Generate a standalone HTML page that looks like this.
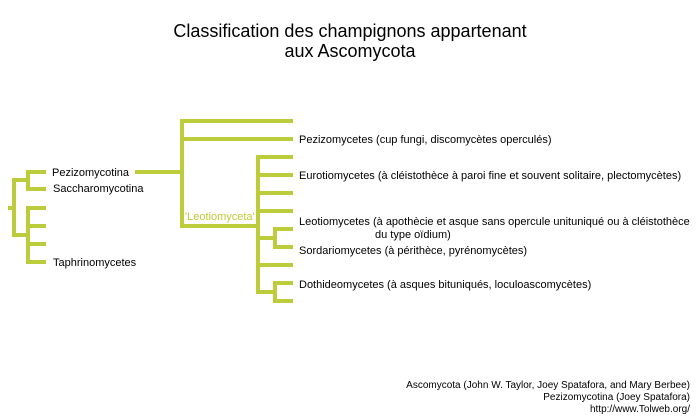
<!DOCTYPE html>
<html><head><style>
html,body{margin:0;padding:0;background:#fff;}
svg{display:block;}
text{font-family:"Liberation Sans",Arial,sans-serif;fill:#000;}
</style></head><body>
<svg width="700" height="420" viewBox="0 0 700 420" xmlns="http://www.w3.org/2000/svg">
<text x="350" y="37" font-size="18" text-anchor="middle">Classification des champignons appartenant</text>
<text x="350" y="57" font-size="18" text-anchor="middle">aux Ascomycota</text>
<g stroke="#bccc3a" stroke-width="4" fill="none" stroke-linecap="butt">
<line x1="8" y1="208" x2="14" y2="208"/>
<line x1="14" y1="178" x2="14" y2="237"/>
<line x1="12" y1="180" x2="28" y2="180"/>
<line x1="12" y1="235" x2="28" y2="235"/>
<line x1="28" y1="170" x2="28" y2="191"/>
<line x1="26" y1="172" x2="46" y2="172"/>
<line x1="26" y1="189" x2="46" y2="189"/>
<line x1="28" y1="206" x2="28" y2="264"/>
<line x1="26" y1="208" x2="46" y2="208"/>
<line x1="26" y1="226" x2="46" y2="226"/>
<line x1="26" y1="244" x2="46" y2="244"/>
<line x1="26" y1="262" x2="46" y2="262"/>
<line x1="135" y1="172" x2="182" y2="172"/>
<line x1="182" y1="119" x2="182" y2="228"/>
<line x1="180" y1="121" x2="293" y2="121"/>
<line x1="180" y1="139" x2="293" y2="139"/>
<line x1="180" y1="226" x2="258" y2="226"/>
<line x1="258" y1="155" x2="258" y2="294"/>
<line x1="256" y1="157" x2="293" y2="157"/>
<line x1="256" y1="175" x2="293" y2="175"/>
<line x1="256" y1="193" x2="293" y2="193"/>
<line x1="256" y1="211" x2="293" y2="211"/>
<line x1="256" y1="238" x2="275" y2="238"/>
<line x1="275" y1="227" x2="275" y2="249"/>
<line x1="273" y1="229" x2="293" y2="229"/>
<line x1="273" y1="247" x2="293" y2="247"/>
<line x1="256" y1="265" x2="293" y2="265"/>
<line x1="256" y1="292" x2="275" y2="292"/>
<line x1="275" y1="281" x2="275" y2="303"/>
<line x1="273" y1="283" x2="293" y2="283"/>
<line x1="273" y1="301" x2="293" y2="301"/>
</g>
<g font-size="11">
<text x="52" y="176">Pezizomycotina</text>
<text x="53" y="192">Saccharomycotina</text>
<text x="53" y="266">Taphrinomycetes</text>
<text x="185" y="220" style="fill:#bccc3a">'Leotiomyceta'</text>
<text x="299" y="143">Pezizomycetes (cup fungi, discomycètes operculés)</text>
<text x="299" y="179">Eurotiomycetes (à cléistothèce à paroi fine et souvent solitaire, plectomycètes)</text>
<text x="299" y="225">Leotiomycetes (à apothècie et asque sans opercule unituniqué ou à cléistothèce</text>
<text x="375" y="238">du type oïdium)</text>
<text x="299" y="254">Sordariomycetes (à périthèce, pyrénomycètes)</text>
<text x="299" y="288">Dothideomycetes (à asques bituniqués, loculoascomycètes)</text>
</g>
<g font-size="10" text-anchor="end">
<text x="690" y="388">Ascomycota (John W. Taylor, Joey Spatafora, and Mary Berbee)</text>
<text x="690" y="400">Pezizomycotina (Joey Spatafora)</text>
<text x="690" y="412">http://www.Tolweb.org/</text>
</g>
</svg>
</body></html>
